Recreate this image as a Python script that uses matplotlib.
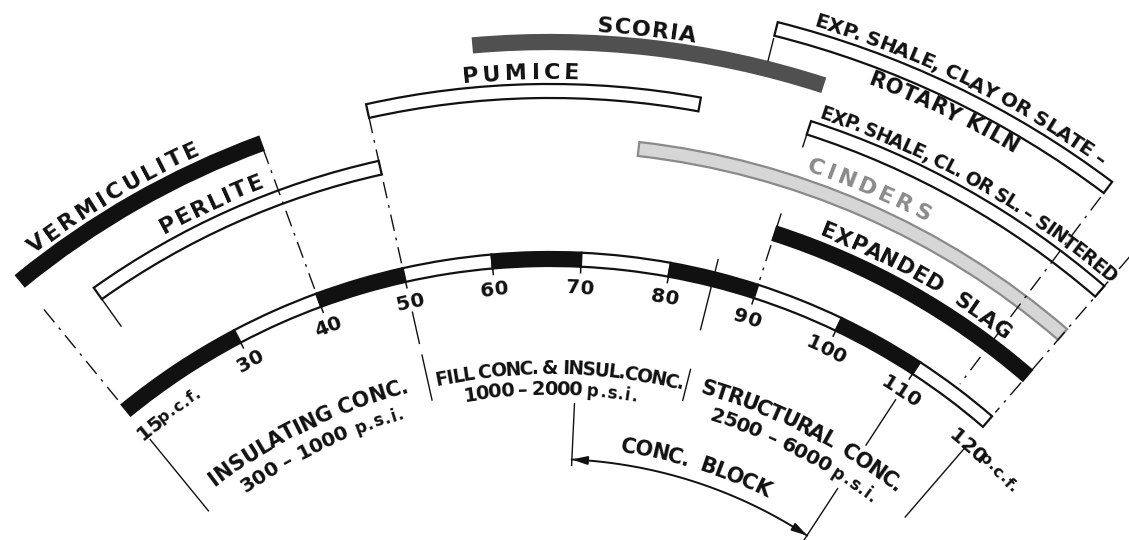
import numpy as np
import matplotlib
matplotlib.use('Agg')
import matplotlib.pyplot as plt
from matplotlib.font_manager import FontProperties
from matplotlib.textpath import TextToPath

# ---- data (unit weight of concrete, p.c.f.) ----
aggregates = ['VERMICULITE', 'PERLITE', 'PUMICE', 'SCORIA',
              'EXP. SHALE, CLAY OR SLATE –\nROTARY KILN',
              'EXP. SHALE, CL. OR SL. – SINTERED',
              'CINDERS', 'EXPANDED  SLAG']
agg_low = [15, 20, 50, 60, 85, 90, 75, 90]
agg_high = [40, 50, 80, 90, 115, 120, 120, 120]

scale_min, scale_max = 15, 120
scale_ticks = [30, 40, 50, 60, 70, 80, 90, 100, 110]

classes = ['INSULATING CONC.', 'FILL CONC. & INSUL.CONC.', 'STRUCTURAL  CONC.']
class_psi = ['300 – 1000', '1000 – 2000', '2500 – 6000']
class_low = [15, 50, 85]
class_high = [50, 85, 120]

block_label = 'CONC.  BLOCK'
block_low, block_high = 70, 110

# ---- layout ----
DPI = 100
W, H = 1129, 540
CX, CY = 550, 929          # centre of the arcs in pixels (below the picture)
P0 = 66.5                  # p.c.f. at the top of the arc
DEG_PER_PCF = 0.762
RMAX = 1000
INK = '#111111'
FONT = 'DejaVu Sans'

agg_r = [837, 780, 838, 887, 928, 842, 785, 731]
agg_fill = [INK, 'white', 'white', '#505050', 'white', 'white', '#d6d6d6', INK]
agg_edge = [INK, INK, INK, '#505050', INK, INK, '#8a8a8a', INK]
agg_text_color = [INK, INK, INK, INK, INK, INK, '#8a8a8a', INK]
# (radius, start, end, font size) of each text line, one entry per line of the name
agg_text_pos = [[(850, 17.4, 34.7, 16)], [(795, 28.4, 38.9, 16)], [(850, 58.8, 69.1, 16)],
                [(898, 70.4, 78.7, 16)],
                [(940, 87.8, 113.6, 14.5), (903, 93.5, 107.0, 15)],
                [(854, 90.5, 120.3, 13.5)], [(800, 91.0, 103.3, 16)],
                [(744, 94.3, 116.0, 15.5)]]
BAR_T = 14
R_SCALE = 670
R_BLOCK = 470

class_pos = [(555, 17.7, 47.3, 15), (555, 51.0, 84.6, 13.5), (556, 87.0, 117.0, 15)]
psi_pos = [(531, 20.7, 37.5, 38.5, 14.5), (534, 54.4, 71.0, 71.6, 14),
           (533, 89.2, 107.6, 108.1, 14.5)]

# radial guide lines: (p.c.f., outer r, inner r, dashed)
guides = [(15, 800, 682, True), (15, 632, 540, False), (20, 772, 740, False),
          (40, 832, 682, True), (50, 832, 682, True), (50, 632, 600, False),
          (50, 588, 542, False), (70, 526, 464, False), (85, 918, 895, False),
          (85, 690, 618, False), (85, 577, 545, False), (90, 752, 682, True),
          (90, 836, 822, False), (110, 632, 578, False), (110, 526, 464, False),
          (115, 916, 682, True), (120, 900, 682, True), (120, 638, 544, False)]


def th(p):
    return np.radians((p - P0) * DEG_PER_PCF)


fig = plt.figure(figsize=(W / DPI, H / DPI), dpi=DPI)
ax = fig.add_axes([(CX - RMAX) / W, (H - CY - RMAX) / H, 2 * RMAX / W, 2 * RMAX / H],
                  projection='polar')
ax.set_theta_zero_location('N')
ax.set_theta_direction(-1)
ax.set_rlim(0, RMAX)
ax.set_axis_off()

t2p = TextToPath()


def text_px(s, fp):
    w, h, d = t2p.get_text_width_height_descent(s, fp, ismath=False)
    return w * DPI / 72


def curved_text(s, r, p_start, p_end=None, size=13, color=INK, center=False, track=0.0):
    """Lay the letters of s one by one along the arc of radius r."""
    fp = FontProperties(family=FONT, size=size, weight='bold')
    adv = [text_px(s[:i + 1] + '|', fp) - text_px(s[:i] + '|', fp) for i in range(len(s))]
    total = sum(adv)
    if p_end is not None and len(s) > 1:
        track = (r * (th(p_end) - th(p_start)) - total) / (len(s) - 1)
    span = total + track * (len(s) - 1)
    t0 = th(p_start) - (span / 2 / r if center else 0)
    pos = 0.0
    for ch, a in zip(s, adv):
        t = t0 + (pos + a / 2) / r
        if ch != ' ':
            ax.text(t, r, ch, fontproperties=fp, color=color, ha='center',
                    va='baseline', rotation=-np.degrees(t), rotation_mode='anchor')
        pos += a + track


# guide lines
for p, r1, r2, dashed in guides:
    ls = (0, (12, 5, 2, 5)) if dashed else '-'
    ax.plot([th(p), th(p)], [r1, r2], color=INK, lw=1.0, ls=ls)

# aggregate bars
for lo, hi, r, fc, ec in zip(agg_low, agg_high, agg_r, agg_fill, agg_edge):
    ax.bar(th((lo + hi) / 2), BAR_T, width=th(hi) - th(lo), bottom=r - BAR_T / 2,
           color=fc, edgecolor=ec, linewidth=1.6)

# main density scale
bounds = [scale_min] + scale_ticks + [scale_max]
for i, (lo, hi) in enumerate(zip(bounds[:-1], bounds[1:])):
    ax.bar(th((lo + hi) / 2), BAR_T, width=th(hi) - th(lo), bottom=R_SCALE - BAR_T / 2,
           color=INK if i % 2 == 0 else 'white', edgecolor=INK, linewidth=1.6)
for p in scale_ticks:
    ax.plot([th(p), th(p)], [R_SCALE - BAR_T / 2, R_SCALE - BAR_T / 2 - 6], color=INK, lw=1.1)
    curved_text(str(p), 636, p, size=14.5, center=True)
curved_text(str(scale_min), 635, 14.2, size=14.5)
curved_text('p.c.f.', 637, 17.3, size=11.5, track=0.5)
curved_text(str(scale_max), 632, 117.6, size=14.5)
curved_text('p.c.f.', 635, 122.0, size=11.5, track=0.5)

# labels of the bars
for name, pos, col in zip(aggregates, agg_text_pos, agg_text_color):
    for line, (r, a, b, fs) in zip(name.split('\n'), pos):
        curved_text(line, r, a, b, size=fs, color=col)

# concrete classes
for name, psi, (r, a, b, fs), (r2, a2, b2, a3, fs2) in zip(classes, class_psi, class_pos, psi_pos):
    curved_text(name, r, a, b, size=fs)
    curved_text(psi, r2, a2, b2, size=fs2)
    curved_text('p.s.i.', r2, a3, size=12, track=0.8)

# concrete block arrow
tt = np.linspace(th(block_low), th(block_high), 100)
ax.plot(tt, np.full_like(tt, R_BLOCK), color=INK, lw=1.4)
for a, b in [(block_low + 2, block_low), (block_high - 2, block_high)]:
    ax.annotate('', xy=(th(b), R_BLOCK), xytext=(th(a), R_BLOCK),
                arrowprops=dict(arrowstyle='-|>,head_length=0.9,head_width=0.25',
                                color=INK, lw=1.4, shrinkA=0, shrinkB=0))
curved_text(block_label, 482, 77.4, 101.5, size=15)

fig.savefig('out.png', dpi=DPI, facecolor='white')
